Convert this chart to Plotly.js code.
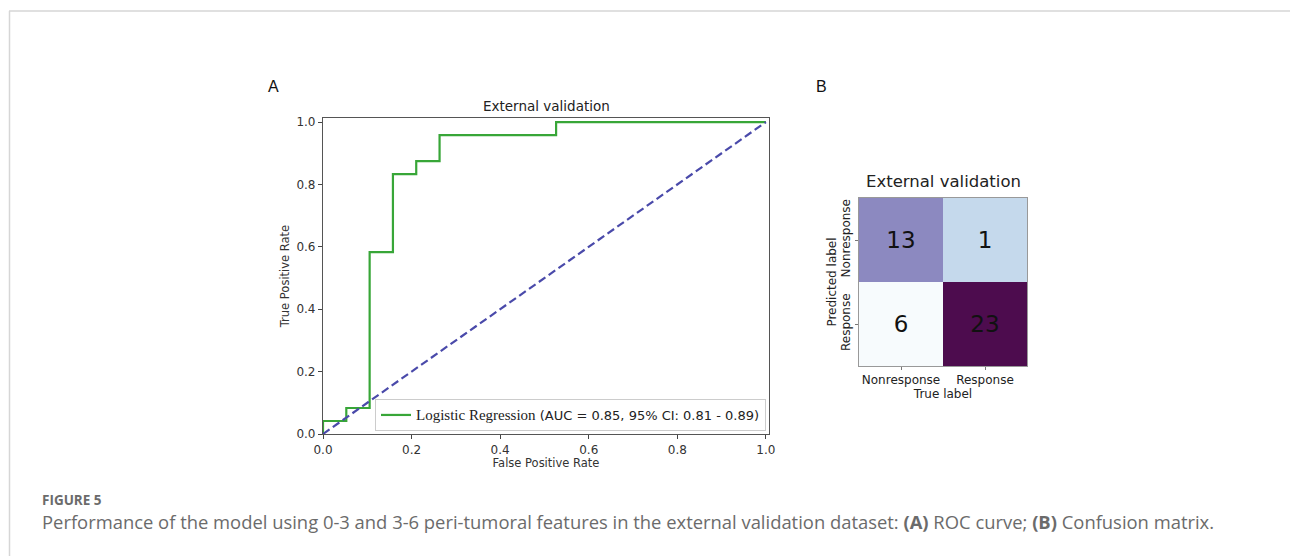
<!DOCTYPE html>
<html>
<head>
<meta charset="utf-8">
<script src="https://cdn.plot.ly/plotly-3.0.1.min.js"></script>
<style>
  html, body { margin: 0; padding: 0; background: #ffffff; }
  #chart { width: 1290px; height: 556px; }
</style>
</head>
<body>
<div id="chart"></div>
<script>
// ---- Data ----
// ROC curve (external validation): false positive rate / true positive rate
const fpr = [0, 0, 0.0526, 0.0526, 0.1053, 0.1053, 0.1579, 0.1579, 0.2105, 0.2105, 0.2632, 0.2632, 0.5263, 0.5263, 1.0];
const tpr = [0, 0.0417, 0.0417, 0.0833, 0.0833, 0.5833, 0.5833, 0.8333, 0.8333, 0.875, 0.875, 0.9583, 0.9583, 1.0, 1.0];
// Chance line
const chanceX = [0, 1];
const chanceY = [0, 1];
const rocLegend = 'Logistic Regression';
const rocStats = '(AUC = 0.85, 95% CI: 0.81 - 0.89)';
const rocTicks = [0, 0.2, 0.4, 0.6, 0.8, 1.0];
const rocTickText = ['0.0', '0.2', '0.4', '0.6', '0.8', '1.0'];

// Confusion matrix: rows = predicted label, columns = true label
const cmLabels = ['Nonresponse', 'Response'];
const cmValues = [[13, 1], [6, 23]];

// ---- Geometry helpers (pixel -> paper) ----
const W = 1290, H = 556;
const px = v => v / W;
const py = v => (H - v) / H;

const mpl = 'DejaVu Sans, Verdana, sans-serif';

const traces = [
  {
    x: fpr, y: tpr, type: 'scatter', mode: 'lines',
    name: '<span style="font-family:\'Liberation Serif\', \'Times New Roman\', serif; font-size:15px">' + rocLegend + '</span> ' + rocStats,
    line: { color: '#38a638', width: 2.2, shape: 'linear' },
    xaxis: 'x', yaxis: 'y', hoverinfo: 'x+y'
  },
  {
    x: chanceX, y: chanceY, type: 'scatter', mode: 'lines',
    showlegend: false,
    line: { color: '#4a4aaa', width: 2.2, dash: '8px,4px' },
    xaxis: 'x', yaxis: 'y', hoverinfo: 'skip'
  },
  {
    type: 'heatmap',
    x: cmLabels, y: cmLabels, z: cmValues,
    xaxis: 'x2', yaxis: 'y2',
    zmin: 1, zmax: 23,
    colorscale: [[0, '#c5d9ec'], [0.2273, '#f7fbfd'], [0.5455, '#8c89c0'], [1, '#4d0c4e']],
    showscale: false,
    texttemplate: '%{z}',
    textfont: { family: mpl, size: 23, color: '#111111' },
    xgap: 0, ygap: 0,
    hoverinfo: 'x+y+z'
  }
];

const layout = {
  width: W, height: H,
  margin: { l: 0, r: 0, t: 0, b: 0 },
  paper_bgcolor: '#ffffff',
  plot_bgcolor: '#ffffff',
  showlegend: true,
  font: { family: mpl, color: '#222222' },
  xaxis: {
    domain: [px(323), px(769)],
    anchor: 'y',
    range: [0, 1.007],
    tickvals: rocTicks, ticktext: rocTickText,
    ticks: 'outside', ticklen: 4, tickwidth: 1, tickcolor: '#444',
    showline: true, mirror: true, linecolor: '#555', linewidth: 1.2,
    showgrid: false, zeroline: false,
    tickfont: { family: mpl, size: 12, color: '#333' },
    title: { text: 'False Positive Rate', font: { family: mpl, size: 11.5, color: '#333' }, standoff: 3 },
    automargin: false, fixedrange: true
  },
  yaxis: {
    domain: [py(434), py(118)],
    anchor: 'x',
    range: [0, 1.013],
    tickvals: rocTicks, ticktext: rocTickText,
    ticks: 'outside', ticklen: 4, tickwidth: 1, tickcolor: '#444',
    showline: true, mirror: true, linecolor: '#555', linewidth: 1.2,
    showgrid: false, zeroline: false,
    tickfont: { family: mpl, size: 12, color: '#333' },
    title: { text: 'True Positive Rate', font: { family: mpl, size: 11.5, color: '#333' }, standoff: 4 },
    automargin: false, fixedrange: true
  },
  xaxis2: {
    domain: [px(859), px(1027)],
    anchor: 'y2',
    type: 'category',
    ticks: 'outside', ticklen: 3, tickwidth: 1, tickcolor: '#777',
    showline: true, mirror: true, linecolor: '#999', linewidth: 1,
    showgrid: false, zeroline: false,
    tickfont: { family: mpl, size: 12, color: '#222' },
    title: { text: 'True label', font: { family: mpl, size: 12, color: '#222' }, standoff: 0 },
    automargin: false, fixedrange: true
  },
  yaxis2: {
    domain: [py(366), py(198)],
    anchor: 'x2',
    type: 'category',
    autorange: 'reversed',
    ticks: 'outside', ticklen: 3, tickwidth: 1, tickcolor: '#777',
    tickangle: -90,
    showline: true, mirror: true, linecolor: '#999', linewidth: 1,
    showgrid: false, zeroline: false,
    tickfont: { family: mpl, size: 12, color: '#222' },
    title: { text: 'Predicted label', font: { family: mpl, size: 12, color: '#222' }, standoff: 0 },
    automargin: false, fixedrange: true
  },
  legend: {
    x: px(766), y: py(431), xanchor: 'right', yanchor: 'bottom',
    bgcolor: '#ffffff', bordercolor: '#cccccc', borderwidth: 1,
    font: { family: mpl, size: 13, color: '#222' },
    tracegroupgap: 0, itemwidth: 30
  },
  shapes: [
    { type: 'line', xref: 'paper', yref: 'paper', x0: px(9), x1: 1, y0: py(11), y1: py(11), line: { color: '#d6d6d6', width: 1.5 } },
    { type: 'line', xref: 'paper', yref: 'paper', x0: px(9.5), x1: px(9.5), y0: py(11), y1: 0, line: { color: '#d6d6d6', width: 1.5 } }
  ],
  annotations: [
    { text: 'External validation', xref: 'paper', yref: 'paper', x: px(546), y: py(106), xanchor: 'center', yanchor: 'middle', showarrow: false, font: { family: mpl, size: 13.5, color: '#222' } },
    { text: 'External validation', xref: 'paper', yref: 'paper', x: px(943), y: py(181), xanchor: 'center', yanchor: 'middle', showarrow: false, font: { family: mpl, size: 16.5, color: '#222' } },
    { text: 'A', xref: 'paper', yref: 'paper', x: px(273), y: py(86), xanchor: 'center', yanchor: 'middle', showarrow: false, font: { family: 'Liberation Sans, Arial, sans-serif', size: 16, color: '#111' } },
    { text: 'B', xref: 'paper', yref: 'paper', x: px(821), y: py(86), xanchor: 'center', yanchor: 'middle', showarrow: false, font: { family: 'Liberation Sans, Arial, sans-serif', size: 16, color: '#111' } },
    { text: '<b>FIGURE 5</b>', xref: 'paper', yref: 'paper', x: px(40), y: py(500), xanchor: 'left', yanchor: 'middle', showarrow: false, font: { family: 'Open Sans, sans-serif', size: 13.5, color: '#6b6b6b' } },
    { text: 'Performance of the model using 0-3 and 3-6 peri-tumoral features in the external validation dataset: <b>(A)</b> ROC curve; <b>(B)</b> Confusion matrix.', xref: 'paper', yref: 'paper', x: px(40), y: py(521), xanchor: 'left', yanchor: 'middle', showarrow: false, font: { family: 'Open Sans, sans-serif', size: 18.4, color: '#6b6b6b' } }
  ]
};

Plotly.newPlot('chart', traces, layout, { displayModeBar: false, staticPlot: false, responsive: false });
</script>
</body>
</html>
